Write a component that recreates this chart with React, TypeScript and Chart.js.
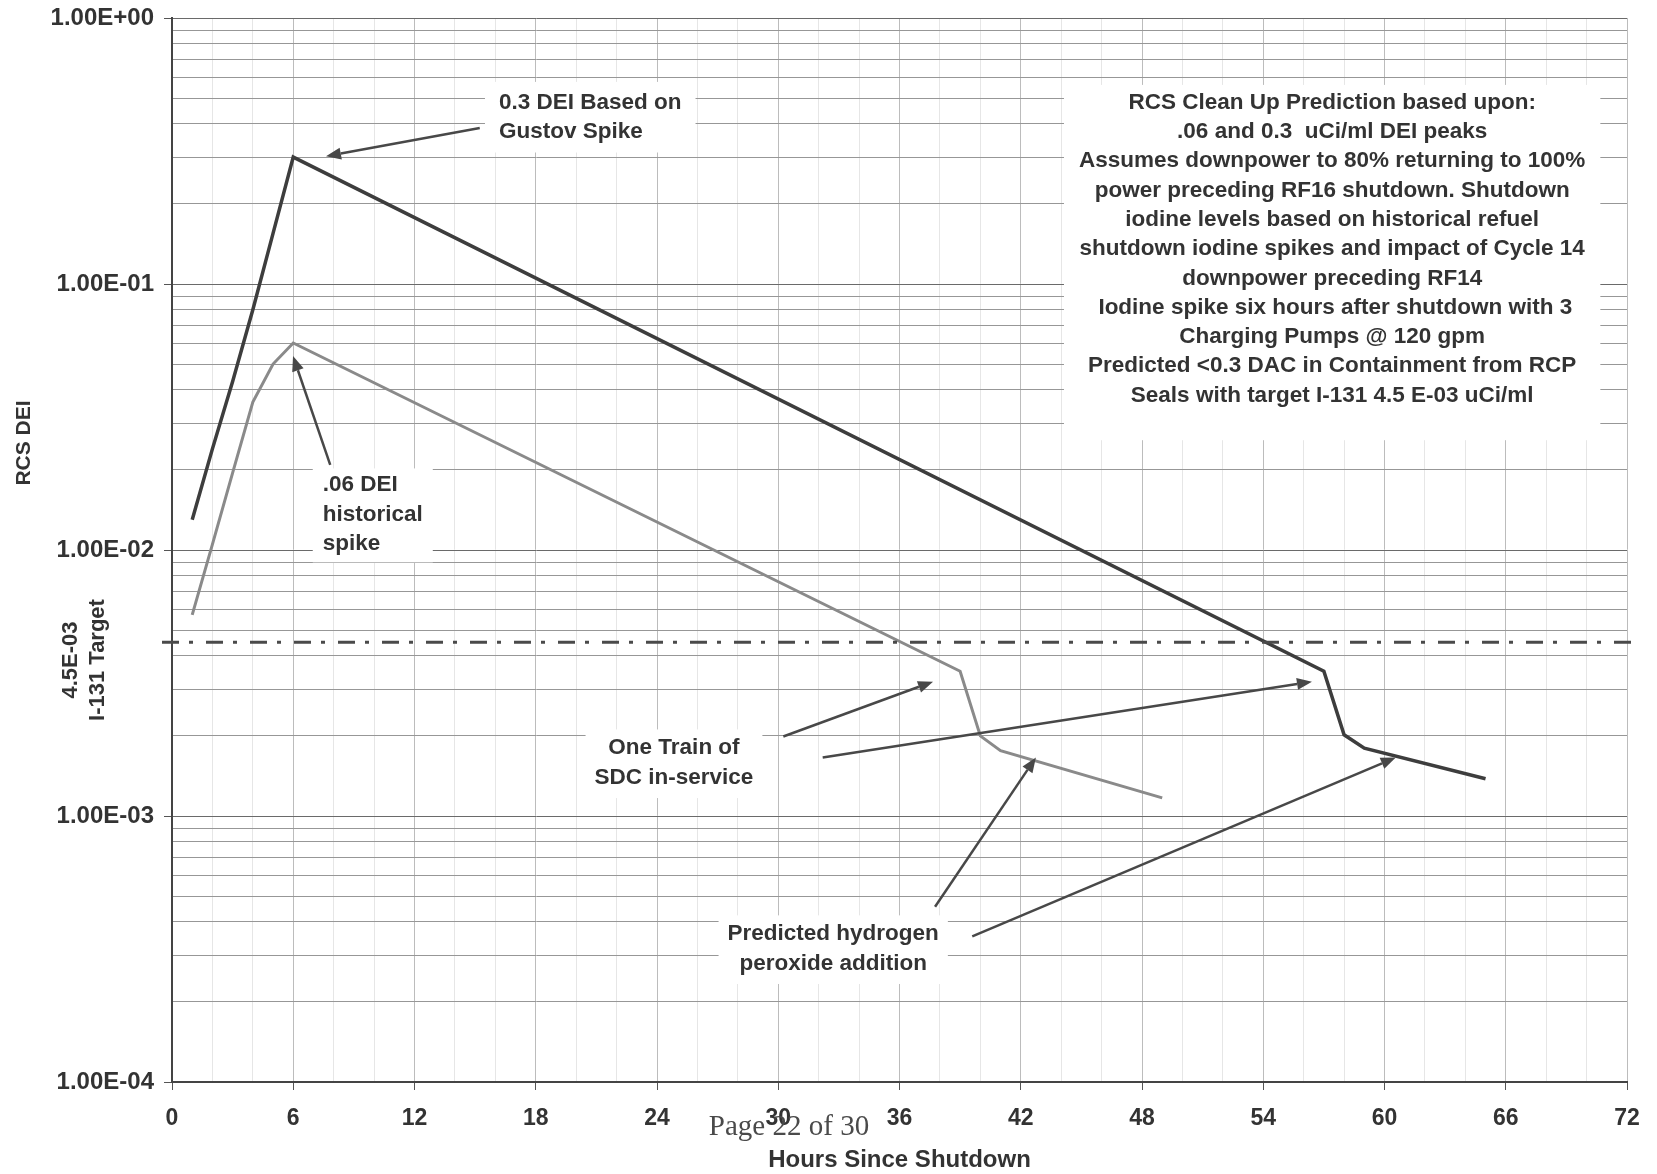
import React, { useEffect, useRef } from "react";
import { Chart, registerables } from "chart.js";

Chart.register(...registerables);

// ---------- data ----------
const hours03 = [1, 2, 3, 4, 5, 6, 57, 58, 59, 65];
const dei03 = [0.013, 0.024, 0.043, 0.08, 0.155, 0.3, 0.0035, 0.00202, 0.0018, 0.00138];

const hours006 = [1, 2, 3, 4, 5, 6, 39, 40, 41, 49];
const dei006 = [0.0057, 0.0105, 0.0195, 0.036, 0.05, 0.06, 0.0035, 0.002, 0.00176, 0.00117];

const targetI131 = 4.5e-3;

const xLabelHours = [0, 6, 12, 18, 24, 30, 36, 42, 48, 54, 60, 66, 72];
const yDecades = [1e-4, 1e-3, 1e-2, 1e-1, 1];
const yDecadeLabels = ["1.00E-04", "1.00E-03", "1.00E-02", "1.00E-01", "1.00E+00"];
const yMinorMultipliers = [2, 3, 4, 5, 6, 7, 8, 9];

// annotation arrows (hours, DEI)
const arrowStartHours = [15.23, 7.83, 30.25, 32.2, 37.76, 39.6];
const arrowStartValues = [0.386, 0.0209, 0.00199, 0.00166, 0.000456, 0.000353];
const arrowEndHours = [7.62, 5.99, 37.66, 56.41, 42.75, 60.56];
const arrowEndValues = [0.302, 0.0536, 0.0032, 0.0032, 0.00166, 0.00166];

// annotation labels
const noteLines = [
  "RCS Clean Up Prediction based upon:",
  ".06 and 0.3  uCi/ml DEI peaks",
  "Assumes downpower to 80% returning to 100%",
  "power preceding RF16 shutdown. Shutdown",
  "iodine levels based on historical refuel",
  "shutdown iodine spikes and impact of Cycle 14",
  "downpower preceding RF14",
  " Iodine spike six hours after shutdown with 3",
  "Charging Pumps @ 120 gpm",
  "Predicted <0.3 DAC in Containment from RCP",
  "Seals with target I-131 4.5 E-03 uCi/ml",
];
const labelLines = [
  ["0.3 DEI Based on", "Gustov Spike"],
  [".06 DEI", "historical", "spike"],
  ["One Train of", "SDC in-service"],
  ["Predicted hydrogen", "peroxide addition"],
  noteLines,
];
const labelHours = [16.18, 7.46, 24.84, 32.72, 57.41];
const labelValues = [0.481, 0.01754, 0.0018, 0.00036, 0.481];
const labelAlign = ["left", "left", "center", "center", "center"];

// ---------- styles ----------
const FONT = "'Liberation Sans', Arial, Helvetica, sans-serif";
const TEXT = "#333333";
const LABEL_FONT = `bold 22.5px ${FONT}`;
const LINE_H = 29.3;
const labelPads = [
  [14, 6, 14, 6],
  [10, 2, 10, 4],
  [9, 4, 9, 6],
  [9, 4, 9, 6],
  [15, 3, 15, 30],
];

const overlayPlugin = {
  id: "overlay",
  beforeDatasetsDraw(chart: any) {
    const { ctx } = chart;
    const xs = chart.scales.x;
    const ys = chart.scales.y;
    ctx.save();
    ctx.font = LABEL_FONT;
    labelLines.forEach((lines, i) => {
      const px = xs.getPixelForValue(labelHours[i]);
      const py = ys.getPixelForValue(labelValues[i]);
      const w = Math.max(...lines.map((l) => ctx.measureText(l).width));
      const left = labelAlign[i] === "left" ? px : px - w / 2;
      const p = labelPads[i];
      ctx.fillStyle = "#ffffff";
      ctx.fillRect(
        left - p[0],
        py - LINE_H / 2 - p[1],
        w + p[0] + p[2],
        lines.length * LINE_H + p[1] + p[3]
      );
    });
    ctx.restore();
  },
  afterDatasetsDraw(chart: any) {
    const { ctx, chartArea } = chart;
    const xs = chart.scales.x;
    const ys = chart.scales.y;
    ctx.save();
    // target line (dash-dot)
    const ty = ys.getPixelForValue(targetI131);
    ctx.strokeStyle = "#4a4a4a";
    ctx.lineWidth = 3;
    ctx.setLineDash([17, 10, 4, 13]);
    ctx.beginPath();
    ctx.moveTo(chartArea.left - 10, ty);
    ctx.lineTo(chartArea.right + 6, ty);
    ctx.stroke();
    ctx.setLineDash([]);

    // arrows
    ctx.strokeStyle = "#484848";
    ctx.fillStyle = "#484848";
    ctx.lineWidth = 2.5;
    for (let i = 0; i < arrowStartHours.length; i++) {
      const x0 = xs.getPixelForValue(arrowStartHours[i]);
      const y0 = ys.getPixelForValue(arrowStartValues[i]);
      const x1 = xs.getPixelForValue(arrowEndHours[i]);
      const y1 = ys.getPixelForValue(arrowEndValues[i]);
      const ang = Math.atan2(y1 - y0, x1 - x0);
      const headL = 15;
      const headW = 6;
      const bx = x1 - headL * Math.cos(ang);
      const by = y1 - headL * Math.sin(ang);
      ctx.beginPath();
      ctx.moveTo(x0, y0);
      ctx.lineTo(bx, by);
      ctx.stroke();
      ctx.beginPath();
      ctx.moveTo(x1, y1);
      ctx.lineTo(bx + headW * Math.sin(ang), by - headW * Math.cos(ang));
      ctx.lineTo(bx - headW * Math.sin(ang), by + headW * Math.cos(ang));
      ctx.closePath();
      ctx.fill();
    }

    // labels
    ctx.font = LABEL_FONT;
    ctx.fillStyle = TEXT;
    ctx.textBaseline = "middle";
    labelLines.forEach((lines, i) => {
      const px = xs.getPixelForValue(labelHours[i]);
      const py = ys.getPixelForValue(labelValues[i]);
      ctx.textAlign = labelAlign[i] as CanvasTextAlign;
      lines.forEach((l, j) => ctx.fillText(l, px, py + j * LINE_H));
    });
    ctx.restore();
  },
  afterDraw(chart: any) {
    const { ctx, chartArea } = chart;
    ctx.save();
    ctx.fillStyle = TEXT;
    ctx.textBaseline = "middle";
    ctx.textAlign = "center";
    // x title
    ctx.font = `bold 24px ${FONT}`;
    ctx.fillText("Hours Since Shutdown", (chartArea.left + chartArea.right) / 2, 1160);
    // page footer
    ctx.font = `29px 'Liberation Serif', 'Times New Roman', serif`;
    ctx.fillStyle = "#4a4a4a";
    ctx.fillText("Page 22 of 30", 789, 1127);
    // rotated y labels
    const rot = (text: string, font: string, cx: number, cy: number) => {
      ctx.save();
      ctx.translate(cx, cy);
      ctx.rotate(-Math.PI / 2);
      ctx.font = font;
      ctx.fillStyle = TEXT;
      ctx.fillText(text, 0, 0);
      ctx.restore();
    };
    rot("RCS DEI", `bold 21px ${FONT}`, 24, 443);
    rot("4.5E-03", `bold 22px ${FONT}`, 71, 660);
    rot("I-131 Target", `bold 22px ${FONT}`, 98, 660);
    ctx.restore();
  },
};

const isDecade = (v: number) => Math.abs(Math.log10(v) - Math.round(Math.log10(v))) < 1e-6;

export default function App() {
  const ref = useRef<HTMLCanvasElement | null>(null);

  useEffect(() => {
    if (!ref.current) return;
    const yTickValues: number[] = [];
    yDecades.forEach((d, i) => {
      yTickValues.push(d);
      if (i < yDecades.length - 1) yMinorMultipliers.forEach((m) => yTickValues.push(d * m));
    });
    yTickValues.sort((a, b) => a - b);

    const chart = new Chart(ref.current, {
      type: "line",
      data: {
        datasets: [
          {
            label: "0.3 DEI",
            data: hours03.map((h, i) => ({ x: h, y: dei03[i] })),
            borderColor: "#3d3d3d",
            borderWidth: 3.5,
            pointRadius: 0,
            tension: 0,
            fill: false,
          },
          {
            label: ".06 DEI",
            data: hours006.map((h, i) => ({ x: h, y: dei006[i] })),
            borderColor: "#8a8a8a",
            borderWidth: 3,
            pointRadius: 0,
            tension: 0,
            fill: false,
          },
        ],
      },
      options: {
        responsive: false,
        animation: false,
        events: [],
        layout: { padding: { left: 0, top: 18, right: 30, bottom: 0 } },
        plugins: {
          legend: { display: false },
          tooltip: { enabled: false },
          title: { display: false },
        },
        scales: {
          x: {
            type: "linear",
            min: 0,
            max: 72,
            afterFit: (s: any) => {
              s.height = 92;
              s.paddingLeft = 0;
              s.paddingRight = 0;
            },
            ticks: {
              stepSize: 2,
              autoSkip: false,
              maxRotation: 0,
              padding: 15,
              color: TEXT,
              font: { family: FONT, size: 23, weight: "bold" },
              callback: (v: any) => (xLabelHours.includes(Number(v)) ? String(v) : ""),
            },
            grid: {
              color: (c: any) =>
                c.tick && xLabelHours.includes(c.tick.value) ? "#bcbcbc" : "#e6e6e6",
              lineWidth: 1,
              tickLength: 8,
              tickColor: (c: any) =>
                c.tick && xLabelHours.includes(c.tick.value) ? "#555" : "rgba(0,0,0,0)",
            },
            border: { color: "#444", width: 2 },
          },
          y: {
            type: "logarithmic",
            min: 1e-4,
            max: 1,
            afterFit: (s: any) => {
              s.width = 172;
              s.paddingTop = 0;
              s.paddingBottom = 0;
            },
            afterBuildTicks: (s: any) => {
              s.ticks = yTickValues.map((v) => ({ value: v, major: isDecade(v) }));
            },
            ticks: {
              autoSkip: false,
              padding: 10,
              color: TEXT,
              font: { family: FONT, size: 24, weight: "bold" },
              callback: (v: any) => {
                const idx = yDecades.findIndex((d) => Math.abs(d - Number(v)) / d < 1e-6);
                return idx >= 0 ? yDecadeLabels[idx] : "";
              },
            },
            grid: {
              color: (c: any) => (c.tick && isDecade(c.tick.value) ? "#6a6a6a" : "#979797"),
              lineWidth: 1,
              tickLength: 8,
              tickColor: (c: any) =>
                c.tick && isDecade(c.tick.value) ? "#555" : "rgba(0,0,0,0)",
            },
            border: { color: "#444", width: 2 },
          },
        },
      },
      plugins: [overlayPlugin],
    });
    return () => chart.destroy();
  }, []);

  return (
    <div style={{ position: "fixed", left: 0, top: 0, width: 1657, height: 1174, background: "#fff" }}>
      <canvas ref={ref} width={1657} height={1174} style={{ display: "block" }} />
    </div>
  );
}
